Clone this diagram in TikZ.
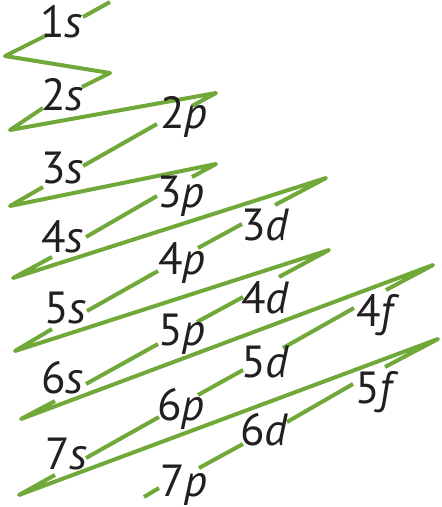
\documentclass[tikz,border=0pt]{standalone}
\usepackage{fontspec}
\setmainfont{PT Sans}
\definecolor{lg}{RGB}{112,168,57}
\definecolor{ink}{RGB}{35,31,32}
\begin{document}
\begin{tikzpicture}[x=1pt,y=-1pt,
  zz/.style={draw=lg, line width=4pt, line join=round},
  lab/.style={anchor=base west, inner sep=0pt, text=ink, font=\fontsize{45}{45}\selectfont}]
\useasboundingbox (0,0) rectangle (442,507);
% zigzag
\draw[zz] (110,2) -- (83,17);
\draw[zz] (47,35) -- (5,56) -- (110,73) -- (82,87);
\draw[zz] (43,108) -- (10,130) -- (216,93) -- (192,106);
\draw[zz] (157,124) -- (83,166);
\draw[zz] (43,187) -- (10,206) -- (216,164) -- (192,177);
\draw[zz] (157,196) -- (86,237);
\draw[zz] (52,257) -- (13,278) -- (326,178) -- (275,205);
\draw[zz] (242,224) -- (198,248);
\draw[zz] (158,271) -- (87,311);
\draw[zz] (52,329) -- (15,351) -- (329,250) -- (279,277);
\draw[zz] (243,297) -- (197,322);
\draw[zz] (158,344) -- (86,384);
\draw[zz] (55,401) -- (21,419) -- (433,265) -- (386,290);
\draw[zz] (354,308) -- (283,348);
\draw[zz] (243,370) -- (198,395);
\draw[zz] (159,417) -- (86,458);
\draw[zz] (55,475) -- (19,495) -- (438,339) -- (385,367);
\draw[zz] (353,384) -- (287,422);
\draw[zz] (243,444) -- (199,468);
\draw[zz] (159,488) -- (144,497);
% labels
\node[lab] (l1s) at (40,37) {1\textit{s}};
\node[lab] (l2s) at (41,110) {2\textit{s}};
\node[lab] (l3s) at (41,183) {3\textit{s}};
\node[lab] (l4s) at (41,252) {4\textit{s}};
\node[lab] (l5s) at (44,323) {5\textit{s}};
\node[lab] (l6s) at (41,393) {6\textit{s}};
\node[lab] (l7s) at (45,469) {7\textit{s}};
\node[lab] (l2p) at (160,128) {2\textit{p}};
\node[lab] (l3p) at (157,207) {3\textit{p}};
\node[lab] (l4p) at (158,274) {4\textit{p}};
\node[lab] (l5p) at (158,345) {5\textit{p}};
\node[lab] (l6p) at (157,420) {6\textit{p}};
\node[lab] (l7p) at (160,496) {7\textit{p}};
\node[lab] (l3d) at (241,240) {3\textit{d}};
\node[lab] (l4d) at (241,313) {4\textit{d}};
\node[lab] (l5d) at (241,377) {5\textit{d}};
\node[lab] (l6d) at (240,445) {6\textit{d}};
\node[lab] (l4f) at (356,326) {4\textit{f}};
\node[lab] (l5f) at (355,403) {5\textit{f}};
\end{tikzpicture}
\end{document}
